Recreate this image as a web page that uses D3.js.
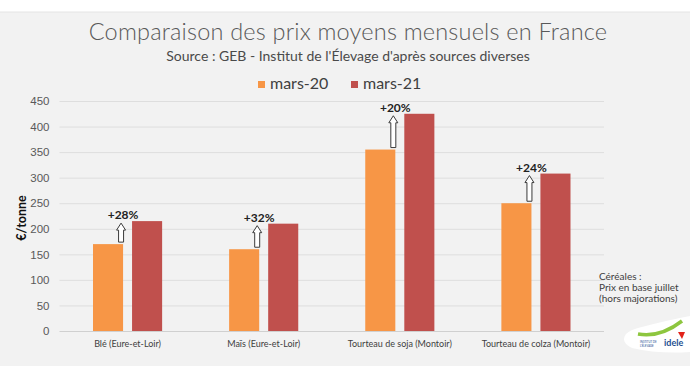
<!DOCTYPE html>
<html>
<head>
<meta charset="utf-8">
<script src="https://cdn.jsdelivr.net/npm/d3@7"></script>
<style>
  body { margin: 0; background: #fff; }
  svg { display: block; font-family: "Lato", "Noto Sans", sans-serif; }
</style>
</head>
<body>
<svg id="chart"></svg>
<script>
const categories = ["Blé (Eure-et-Loir)", "Maïs (Eure-et-Loir)", "Tourteau de soja (Montoir)", "Tourteau de colza (Montoir)"];
const series = ["mars-20", "mars-21"];
const mars20 = [170, 160, 355, 250];
const mars21 = [215, 210, 425, 308];
const changes = ["+28%", "+32%", "+20%", "+24%"];
const yTicks = [0, 50, 100, 150, 200, 250, 300, 350, 400, 450];
const colors = { "mars-20": "#f79646", "mars-21": "#c0504d" };

const width = 690, height = 388;
const margin = { top: 101, right: 86, bottom: 57, left: 59.5 };

const svg = d3.select("#chart").attr("width", width).attr("height", height);

// grey panel
svg.append("rect").attr("x", 0).attr("y", 12).attr("width", width).attr("height", 354)
  .attr("fill", "#f2f2f2");
svg.append("line").attr("x1", 0).attr("x2", width).attr("y1", 12).attr("y2", 12)
  .attr("stroke", "#e4e4e4");

const x0 = d3.scaleBand().domain(categories)
  .range([margin.left, width - margin.right]).padding(0);
const x1 = d3.scaleBand().domain(series)
  .range([33.5, x0.bandwidth() - 33.5]).paddingInner(0.23);
const y = d3.scaleLinear().domain([0, 450]).range([height - margin.bottom, margin.top]);

// gridlines + tick labels
const yAxis = svg.append("g")
  .attr("transform", `translate(${margin.left},0)`)
  .call(d3.axisLeft(y).tickValues(yTicks).tickSize(-(width - margin.right - margin.left)).tickPadding(10));
yAxis.select(".domain").remove();
yAxis.selectAll(".tick line").attr("stroke", d => d === 0 ? "#d0d0d0" : "#dedede");
yAxis.selectAll(".tick text")
  .attr("fill", "#595959").style("font-size", "11.5px");

svg.append("text")
  .attr("transform", `translate(26,${(y(0) + y(450)) / 2 + 2}) rotate(-90)`)
  .attr("text-anchor", "middle")
  .attr("font-weight", "bold").attr("font-size", "12.5px").attr("fill", "#111")
  .text("€/tonne");

// bars
const rows = categories.map((c, i) => ({ cat: c, values: [mars20[i], mars21[i]], change: changes[i] }));

const groups = svg.selectAll(".grp").data(rows).join("g")
  .attr("class", "grp")
  .attr("transform", d => `translate(${x0(d.cat)},0)`);

groups.selectAll("rect")
  .data(d => series.map((s, j) => ({ s, v: d.values[j] })))
  .join("rect")
  .attr("x", d => x1(d.s))
  .attr("y", d => y(d.v))
  .attr("width", x1.bandwidth())
  .attr("height", d => y(0) - y(d.v))
  .attr("fill", d => colors[d.s]);

// hollow arrows
groups.each(function (d) {
  const g = d3.select(this);
  const cx = x1("mars-20") + x1.bandwidth() - 2;
  const yb = y(d.values[0]) - 2;
  const yt = y(d.values[1]) + 2;
  const sw = 2.5, hw = 4.5, hh = 7;
  const pts = [
    [cx - sw, yb], [cx - sw, yt + hh], [cx - hw, yt + hh], [cx, yt],
    [cx + hw, yt + hh], [cx + sw, yt + hh], [cx + sw, yb]
  ];
  g.append("path")
    .attr("d", d3.line()(pts) + "Z")
    .attr("fill", "#fff").attr("stroke", "#3a3a3a").attr("stroke-width", 1);
  g.append("text")
    .attr("x", cx + 2).attr("y", yt - 4)
    .attr("text-anchor", "middle")
    .attr("font-weight", "bold").attr("font-size", "12px").attr("fill", "#222")
    .text(d.change);
});

// category labels
svg.selectAll(".cat").data(categories).join("text")
  .attr("class", "cat")
  .attr("x", d => x0(d) + x0.bandwidth() / 2)
  .attr("y", y(0) + 16)
  .attr("text-anchor", "middle")
  .attr("font-size", "9px").attr("fill", "#404040")
  .text(d => d);

// titles
svg.append("text").attr("x", 348).attr("y", 40).attr("text-anchor", "middle")
  .attr("font-size", "23.5px").attr("fill", "#595959").attr("font-weight", 300)
  .attr("letter-spacing", "0.2px")
  .text("Comparaison des prix moyens mensuels en France");
svg.append("text").attr("x", 348).attr("y", 61).attr("text-anchor", "middle")
  .attr("font-size", "14px").attr("fill", "#4a4a4a")
  .text("Source : GEB - Institut de l'Élevage d'après sources diverses");

// legend
const legend = svg.append("g").attr("transform", "translate(258,89)");
const legX = [0, 93];
series.forEach((s, i) => {
  legend.append("rect").attr("x", legX[i]).attr("y", -8).attr("width", 7).attr("height", 7)
    .attr("fill", colors[s]);
  legend.append("text").attr("x", legX[i] + 12).attr("y", 0)
    .attr("font-size", "16px").attr("fill", "#404040").text(s);
});

// note
const note = ["Céréales :", "Prix en base juillet", "(hors majorations)"];
svg.append("g").selectAll("text").data(note).join("text")
  .attr("x", 599).attr("y", (d, i) => 280 + i * 11)
  .attr("font-size", "10px").attr("fill", "#404040")
  .text(d => d);

// logo
const logo = svg.append("g").attr("transform", "translate(618,312)");
logo.append("path")
  .attr("d", "M8,22 Q2,30 14,36 Q40,42 72,40 L72,4 Q50,8 20,16 Q12,18 8,22 Z")
  .attr("fill", "#fff");
logo.append("path").attr("d", "M20,22 Q42,26 64,9")
  .attr("fill", "none").attr("stroke", "#8dc63f").attr("stroke-width", 3.5);
logo.append("path").attr("d", "M60,20 l7,0 l-3,7 z").attr("fill", "#e2231a");
logo.append("text").attr("x", 46).attr("y", 34).attr("font-size", "9px")
  .attr("font-weight", "bold").attr("fill", "#1d4f91").text("idele");
logo.append("text").attr("x", 22).attr("y", 31).attr("font-size", "2.8px")
  .attr("fill", "#1d4f91").text("INSTITUT DE");
logo.append("text").attr("x", 22).attr("y", 34.5).attr("font-size", "2.8px")
  .attr("fill", "#1d4f91").text("L'ÉLEVAGE");
</script>
</body>
</html>
